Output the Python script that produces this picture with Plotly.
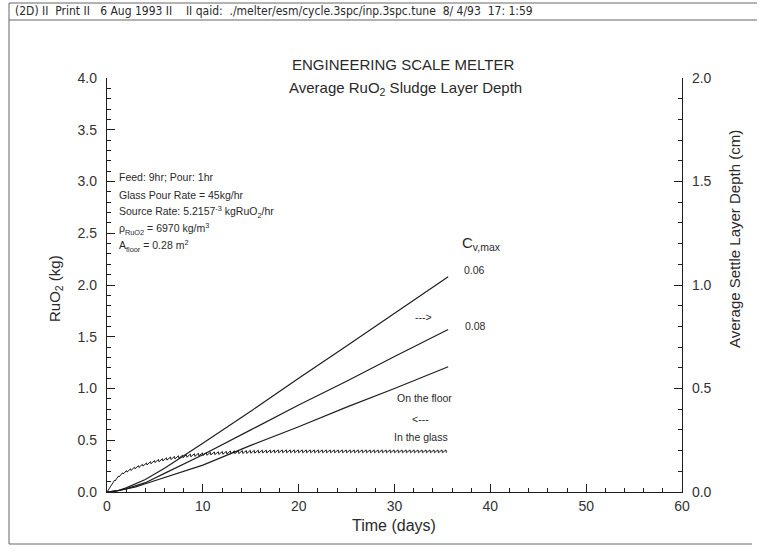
import plotly.graph_objects as go

# ---------------------------------------------------------------------------
# Data
# ---------------------------------------------------------------------------
# RuO2 settled on the melter floor (kg) versus time (days)
floor_days = [0, 1, 2, 3, 4, 6, 8, 10, 15, 20, 25, 30, 35.6]
floor_cv006 = [0, 0.01, 0.04, 0.08, 0.12, 0.23, 0.35, 0.47, 0.78, 1.10, 1.41, 1.73, 2.08]
floor_cv008 = [0, 0.01, 0.03, 0.06, 0.09, 0.18, 0.27, 0.36, 0.60, 0.84, 1.07, 1.31, 1.57]
floor_lower = [0, 0.01, 0.03, 0.05, 0.08, 0.14, 0.20, 0.26, 0.45, 0.63, 0.82, 1.00, 1.21]

# RuO2 suspended in the glass (kg): value at the end of each feed period
# (peak) and at the end of the following pour (trough), one pair per cycle
feed_hours = 9
pour_hours = 1
glass_peak = [
    0.057, 0.114, 0.155, 0.186, 0.206, 0.224, 0.240, 0.255, 0.268, 0.281,
    0.293, 0.304, 0.314, 0.322, 0.330, 0.338, 0.344, 0.350, 0.355, 0.360,
    0.366, 0.370, 0.374, 0.378, 0.381, 0.384, 0.387, 0.389, 0.391, 0.393,
    0.396, 0.398, 0.399, 0.400, 0.401, 0.402, 0.403, 0.404, 0.405, 0.405,
    0.406, 0.406, 0.407, 0.407, 0.407, 0.407, 0.407, 0.407, 0.407, 0.407,
    0.407, 0.407, 0.407, 0.407, 0.407, 0.407, 0.407, 0.407, 0.407, 0.407,
    0.407, 0.407, 0.407, 0.407, 0.407, 0.407, 0.407, 0.407, 0.407, 0.407,
    0.407, 0.407, 0.407, 0.407, 0.407, 0.407, 0.407, 0.407, 0.407, 0.407,
    0.407, 0.407, 0.407, 0.407, 0.407,
]
glass_trough = [
    0.053, 0.106, 0.145, 0.174, 0.192, 0.208, 0.224, 0.237, 0.250, 0.261,
    0.273, 0.284, 0.292, 0.300, 0.308, 0.314, 0.320, 0.326, 0.331, 0.336,
    0.340, 0.344, 0.348, 0.352, 0.355, 0.358, 0.361, 0.363, 0.365, 0.367,
    0.368, 0.370, 0.371, 0.372, 0.373, 0.374, 0.375, 0.376, 0.377, 0.377,
    0.378, 0.378, 0.379, 0.379, 0.379, 0.379, 0.379, 0.379, 0.379, 0.379,
    0.379, 0.379, 0.379, 0.379, 0.379, 0.379, 0.379, 0.379, 0.379, 0.379,
    0.379, 0.379, 0.379, 0.379, 0.379, 0.379, 0.379, 0.379, 0.379, 0.379,
    0.379, 0.379, 0.379, 0.379, 0.379, 0.379, 0.379, 0.379, 0.379, 0.379,
    0.379, 0.379, 0.379, 0.379, 0.379,
]

x_ticks = [0, 10, 20, 30, 40, 50, 60]

# Build the feed/pour sawtooth from the cycle values
cycle_hours = feed_hours + pour_hours
glass_days = [0.0]
glass_kg = [0.0]
for k, (pk, tr) in enumerate(zip(glass_peak, glass_trough)):
    start = k * cycle_hours
    glass_days += [(start + feed_hours) / 24.0, (start + cycle_hours) / 24.0]
    glass_kg += [pk, tr]

# ---------------------------------------------------------------------------
# Layout helpers (page pixels -> paper coordinates)
# ---------------------------------------------------------------------------
W, H = 767, 554
L, R, T, B = 107, 85, 78, 62
PW, PH = W - L - R, H - T - B


def px(x):
    return (x - L) / PW


def py(y):
    return (H - B - y) / PH


INK = "#1e1e1e"
TXT = "#2a2a2a"
SANS = "Liberation Sans, Arial, Helvetica, sans-serif"
NARROW = "Liberation Sans Narrow, Arial Narrow, DejaVu Sans Condensed, sans-serif"

fig = go.Figure()

line_style = dict(color=INK, width=1.2)
fig.add_trace(go.Scatter(x=floor_days, y=floor_cv006, mode="lines", line=line_style,
                         hoverinfo="skip"))
fig.add_trace(go.Scatter(x=floor_days, y=floor_cv008, mode="lines", line=line_style,
                         hoverinfo="skip"))
fig.add_trace(go.Scatter(x=floor_days, y=floor_lower, mode="lines", line=line_style,
                         hoverinfo="skip"))
fig.add_trace(go.Scatter(x=glass_days, y=glass_kg, mode="lines",
                         line=dict(color=INK, width=1.0), hoverinfo="skip"))
# secondary depth axis
fig.add_trace(go.Scatter(x=[], y=[], yaxis="y2", mode="lines", hoverinfo="skip"))

axis_common = dict(
    showline=True, linecolor=INK, linewidth=1.3, mirror=False,
    ticks="inside", tickcolor=INK, tickwidth=1, ticklen=8,
    showgrid=False, zeroline=False,
    tickfont=dict(family=SANS, size=14, color="#333"),
)

fig.update_layout(
    width=W, height=H,
    margin=dict(l=L, r=R, t=T, b=B, pad=0),
    paper_bgcolor="white", plot_bgcolor="white",
    showlegend=False,
    xaxis=dict(
        range=[0, 60], tickvals=x_ticks, ticktext=[str(v) for v in x_ticks],
        minor=dict(ticks="inside", ticklen=4, dtick=2, tick0=0, tickcolor=INK, tickwidth=1),
        ticklabelstandoff=1,
        **axis_common,
    ),
    yaxis=dict(
        range=[0, 4], dtick=0.5, tick0=0, tickformat=".1f",
        minor=dict(ticks="inside", ticklen=4, dtick=0.1, tick0=0, tickcolor=INK, tickwidth=1),
        ticklabelstandoff=6,
        **axis_common,
    ),
    yaxis2=dict(
        range=[0, 2], dtick=0.5, tick0=0, tickformat=".1f",
        overlaying="y", side="right", anchor="x",
        minor=dict(ticks="inside", ticklen=4, dtick=0.1, tick0=0, tickcolor=INK, tickwidth=1),
        ticklabelstandoff=6,
        **axis_common,
    ),
)

annotations = []


def note(text, x, y, size=10.5, xanchor="left", family=SANS, color=TXT, angle=0):
    annotations.append(dict(
        text=text, x=px(x), y=py(y), xref="paper", yref="paper",
        xanchor=xanchor, yanchor="middle", showarrow=False, textangle=angle,
        font=dict(family=family, size=size, color=color),
    ))


# header strip
note("(2D) II  Print II   6 Aug 1993 II    II qaid:  ./melter/esm/cycle.3spc/inp.3spc.tune  8/ 4/93  17: 1:59",
     13, 11, size=12, family=NARROW)

# titles
note("ENGINEERING SCALE MELTER", 403, 64, size=15, xanchor="center")
note("Average RuO<sub>2</sub> Sludge Layer Depth", 405, 88, size=15, xanchor="center")

# run conditions
note("Feed: 9hr; Pour: 1hr", 117, 177)
note("Glass Pour Rate = 45kg/hr", 117, 195)
note("Source Rate: 5.2157<sup>-3</sup> kgRuO<sub>2</sub>/hr", 117, 212)
note("\u03c1<sub>RuO2</sub> = 6970 kg/m<sup>3</sup>", 117, 229)
note("A<sub>floor</sub> = 0.28 m<sup>2</sup>", 117, 246)

# curve labels
note("C<sub>v,max</sub>", 460, 243, size=15)
note("0.06", 462, 270)
note("--->", 413, 317)
note("0.08", 463, 326)
note("On the floor", 424, 398, xanchor="center")
note("<---", 420, 419, xanchor="center")
note("In the glass", 421, 437, xanchor="center")

# axis titles
note("RuO<sub>2</sub> (kg)", 55, 289, size=15, xanchor="center", angle=-90)
note("Average Settle Layer Depth (cm)", 735, 239, size=15, xanchor="center", angle=-90)
note("Time (days)", 394, 525, size=16, xanchor="center")

fig.update_layout(annotations=annotations)

# page frame around the plot
frame = dict(color="#666", width=1)
shapes = []
for (x0, y0, x1, y1) in [(9, 3, 757, 3), (9, 20, 757, 20), (9, 3, 9, 544), (9, 544, 752, 544)]:
    shapes.append(dict(type="line", xref="paper", yref="paper",
                       x0=px(x0), y0=py(y0), x1=px(x1), y1=py(y1), line=frame))
fig.update_layout(shapes=shapes)

fig.write_html("out.html")
